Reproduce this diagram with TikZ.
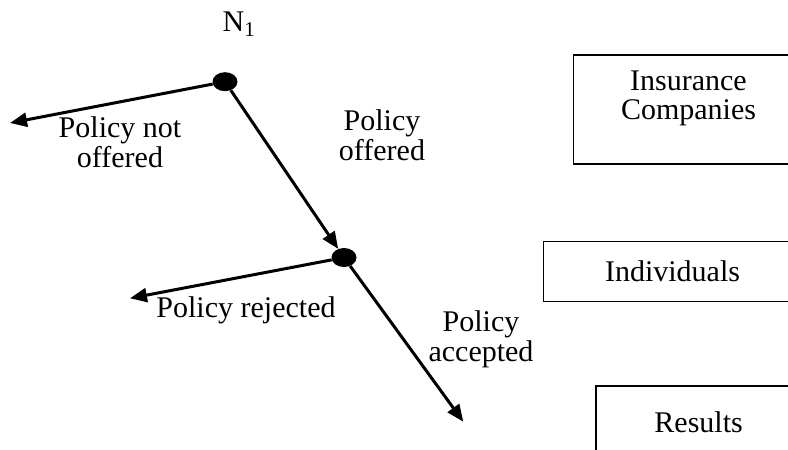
\documentclass[tikz,border=0pt]{standalone}
\usepackage{fontspec}
\setmainfont{Liberation Serif}
\usetikzlibrary{shapes.geometric, arrows.meta, positioning}

\begin{document}
\begin{tikzpicture}[
  x=1pt, y=-1pt,
  dot/.style={ellipse, fill=black, minimum width=25pt, minimum height=19pt, inner sep=0pt},
  box/.style={rectangle, draw=black, line width=1.6pt, anchor=north west, align=center, font=\fontsize{30}{29}\selectfont},
  lbl/.style={align=center, inner sep=0pt, font=\fontsize{30}{30}\selectfont},
  arrow/.style={-{Triangle[length=17pt, width=14pt]}, line width=3pt}
]
  \path[use as bounding box, clip] (0,0) rectangle (788,450);

  % Decision points
  \node[dot] (n1) at (225, 81.7) {};
  \node[dot] (n2) at (344, 257.5) {};
  \node[lbl] (n1lbl) at (239, 24) {N\textsubscript{1}};

  % Free ends of the branches
  \coordinate (notoffend) at (10, 123);
  \coordinate (rejend) at (130, 298.3);
  \coordinate (accend) at (463.3, 421.7);

  % Boxes
  \node[box, minimum width=230pt, minimum height=109pt] (insurers) at (572.7, 54) {Insurance\\Companies\\\mbox{}};
  \node[box, minimum width=258pt, minimum height=60pt] (individuals) at (542.7, 240.7) {Individuals};
  \node[box, minimum width=205pt, minimum height=73pt] (results) at (595.3, 385) {Results};

  % Branch labels
  \node[lbl] (notoffered) at (120, 142) {Policy not\\offered};
  \node[lbl] (offered) at (382, 135) {Policy\\offered};
  \node[lbl] (rejected) at (246, 310) {Policy rejected};
  \node[lbl] (accepted) at (481, 339) {Policy\\accepted};

  % Arrows
  \draw[arrow] (n1) -- (notoffend);
  \draw[arrow] (n1) -- (n2);
  \draw[arrow] (n2) -- (rejend);
  \draw[arrow] (n2) -- (accend);
\end{tikzpicture}
\end{document}
